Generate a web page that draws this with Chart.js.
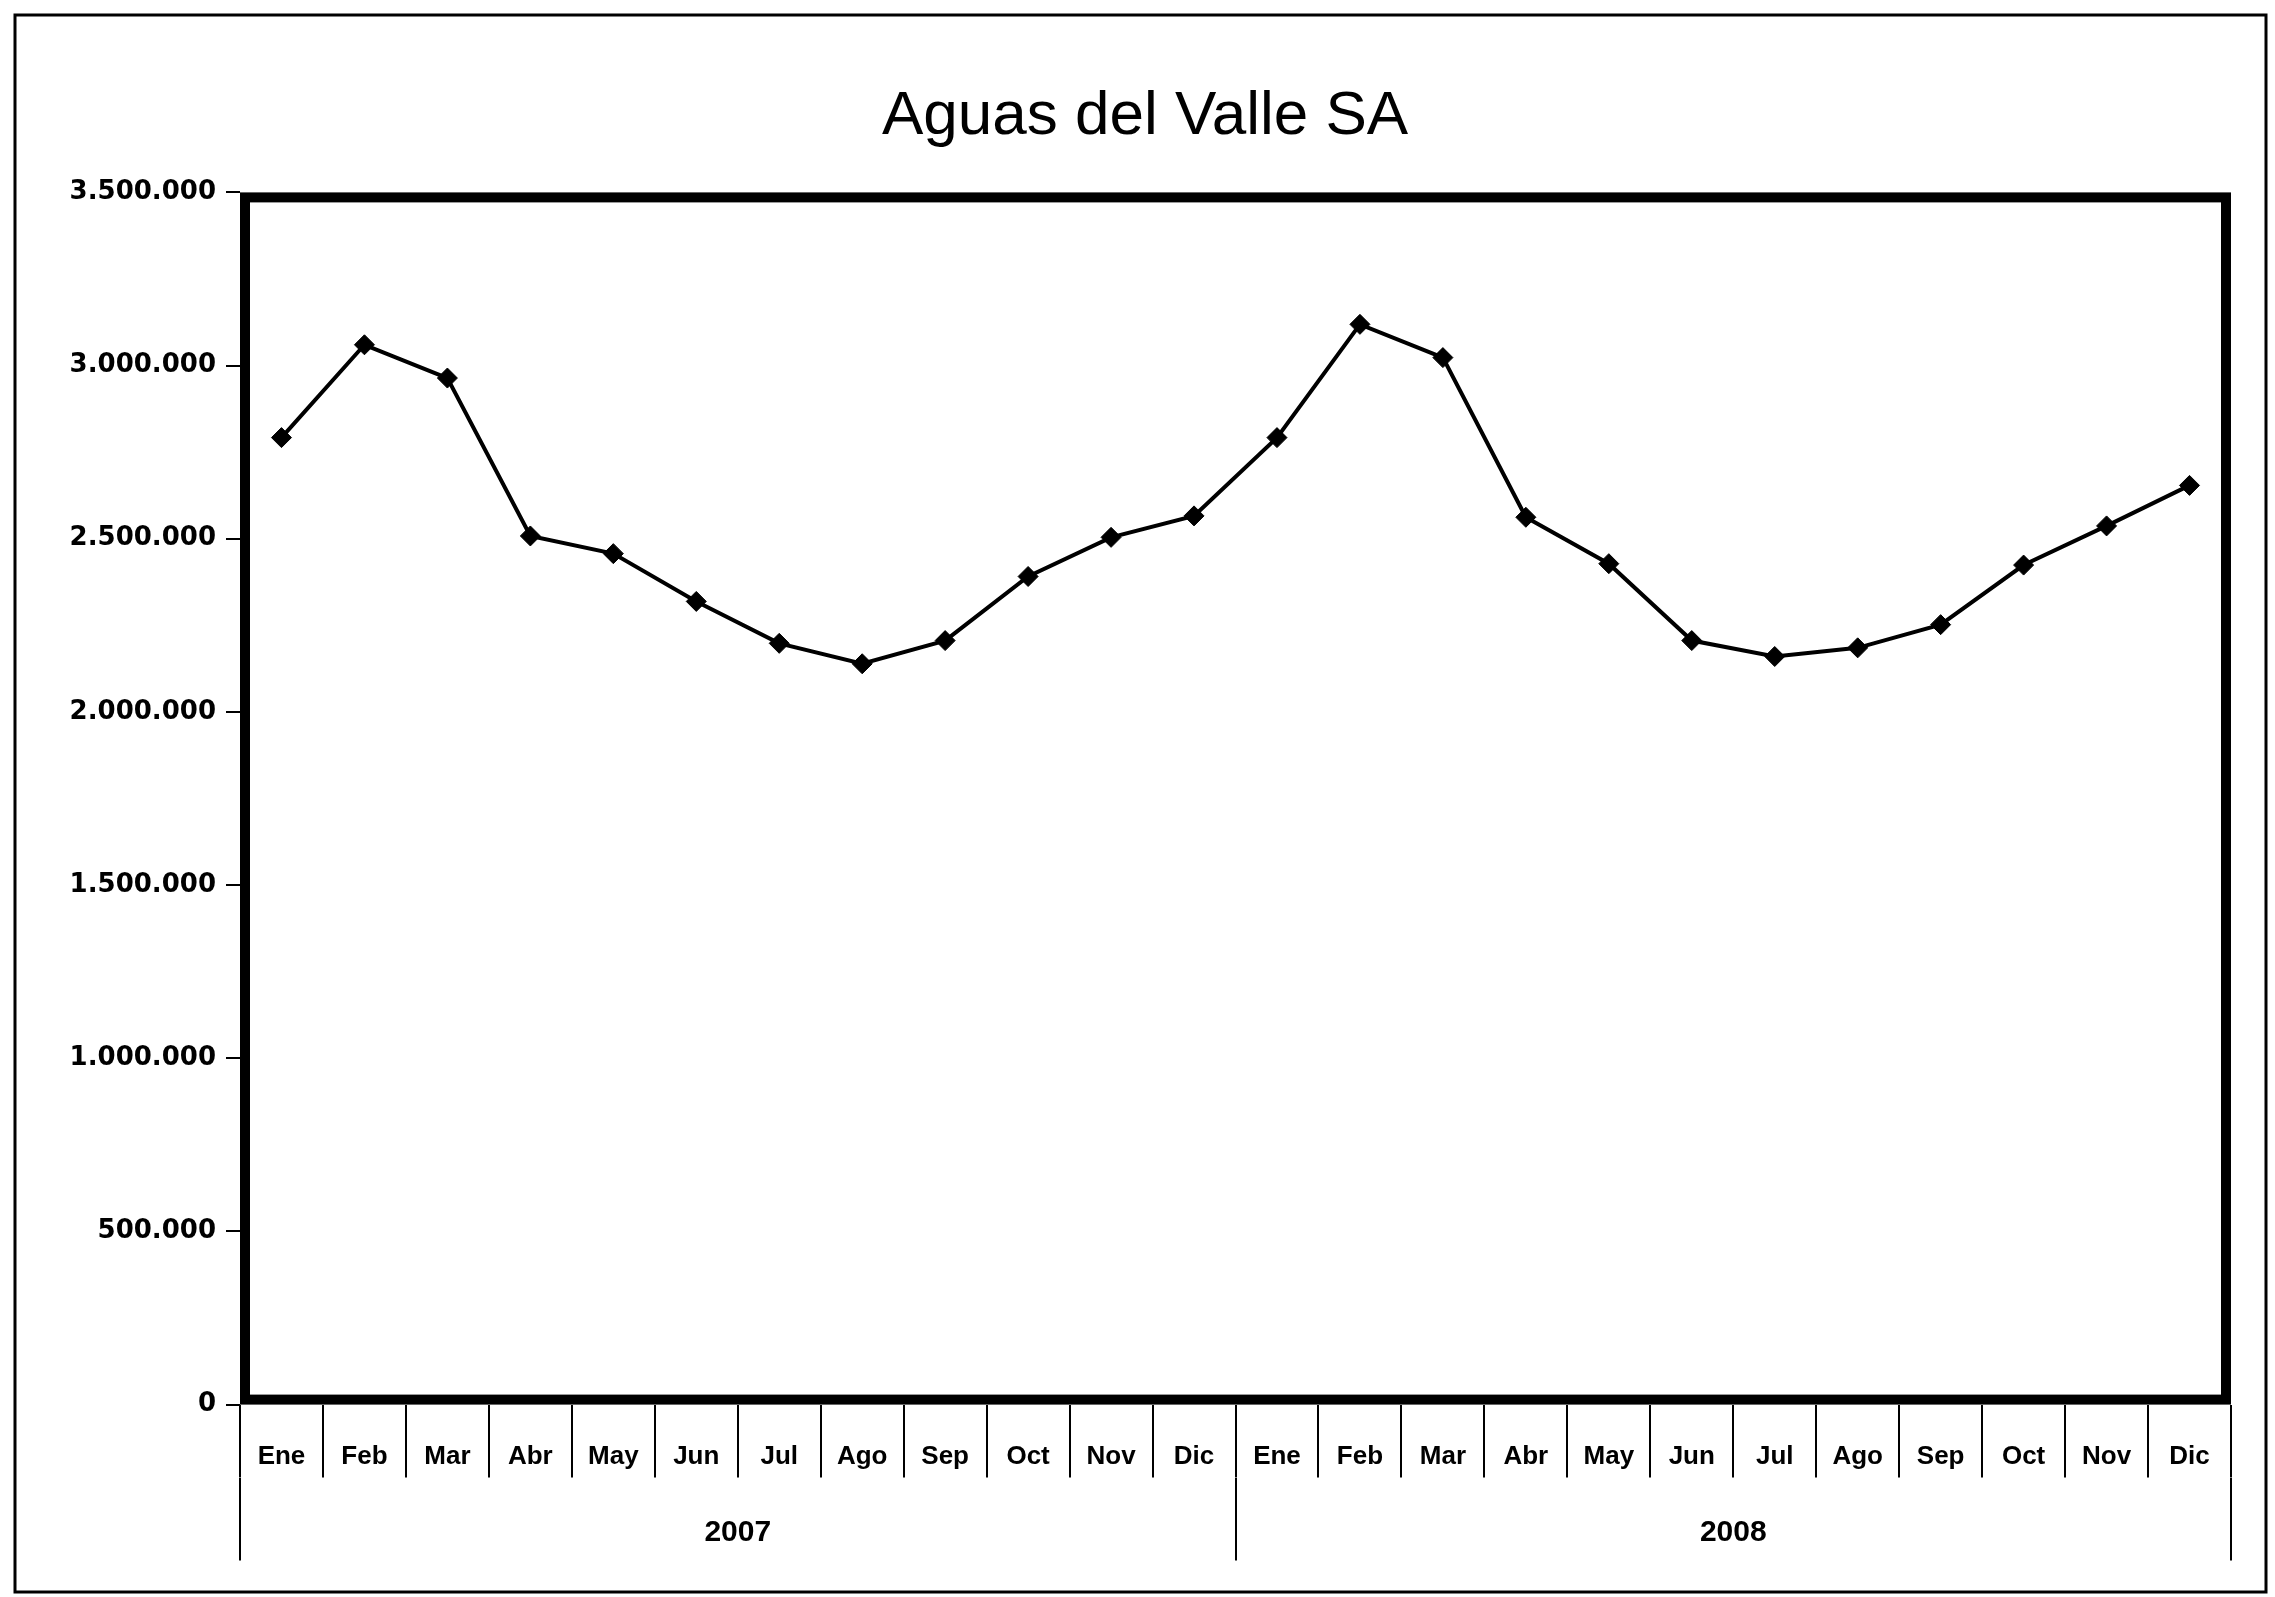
<!DOCTYPE html>
<html>
<head>
<meta charset="utf-8">
<script src="https://cdn.jsdelivr.net/npm/chart.js@4"></script>
<style>
html,body{margin:0;padding:0;background:#fff;}
canvas{display:block;}
</style>
</head>
<body>
<canvas id="c" width="2275" height="1597"></canvas>
<script>
const chartTitle = 'Aguas del Valle SA';
const months = ['Ene','Feb','Mar','Abr','May','Jun','Jul','Ago','Sep','Oct','Nov','Dic',
                'Ene','Feb','Mar','Abr','May','Jun','Jul','Ago','Sep','Oct','Nov','Dic'];
const years = ['2007','2008'];
const values = [2792000, 3060000, 2964000, 2508000, 2457000, 2319000, 2198000, 2139000, 2206000, 2391000, 2504000, 2566000,
                2792000, 3119000, 3023000, 2562000, 2428000, 2206000, 2160000, 2185000, 2252000, 2424000, 2537000, 2654000];
const yMin = 0, yMax = 3500000, yStep = 500000;

function fmt(v){ return String(v).replace(/\B(?=(\d{3})+(?!\d))/g, '.'); }

const framePlugin = {
  id: 'frames',
  beforeDraw(chart){
    const ctx = chart.ctx;
    ctx.save();
    ctx.fillStyle = '#fff';
    ctx.fillRect(0,0,chart.width,chart.height);
    ctx.strokeStyle = '#000';
    ctx.lineWidth = 3;
    ctx.strokeRect(15, 15, 2251, 1577);
    ctx.restore();
  },
  afterDatasetsDraw(chart){
    const a = chart.chartArea, ctx = chart.ctx;
    ctx.save();
    ctx.strokeStyle = '#000';
    ctx.lineWidth = 10;
    ctx.strokeRect(a.left + 5, a.top + 5, a.right - a.left - 10, a.bottom - a.top - 10);
    ctx.restore();
  }
};

new Chart(document.getElementById('c'), {
  type: 'line',
  data: {
    labels: months,
    datasets: [{
      data: values,
      borderColor: '#000',
      backgroundColor: '#000',
      borderWidth: 4,
      pointStyle: 'rectRot',
      pointRadius: 10,
      pointBorderWidth: 1,
      tension: 0,
      xAxisID: 'x',
      yAxisID: 'y'
    }]
  },
  options: {
    responsive: false,
    animation: false,
    layout: { padding: { top: 20, right: 44, bottom: 0, left: 59 } },
    plugins: {
      legend: { display: false },
      tooltip: { enabled: false },
      title: {
        display: true,
        text: chartTitle,
        color: '#000',
        font: { family: 'Liberation Sans, Arial, sans-serif', size: 62, weight: 'normal', lineHeight: 1.2 },
        padding: { top: 60, bottom: 38 }
      }
    },
    scales: {
      y: {
        min: yMin, max: yMax,
        border: { display: false },
        grid: { drawOnChartArea: false, drawTicks: true, tickLength: 14, color: '#000', lineWidth: 2 },
        ticks: {
          stepSize: yStep,
          color: '#000',
          padding: 10,
          font: { family: 'DejaVu Sans, sans-serif', size: 26, weight: 'bold' },
          callback: v => fmt(v)
        },
        afterFit(s){ s.width = 181; }
      },
      x: {
        type: 'category',
        offset: true,
        border: { display: false },
        grid: { offset: true, drawOnChartArea: false, tickLength: 73, color: '#000', lineWidth: 2 },
        ticks: {
          color: '#000',
          padding: -36,
          maxRotation: 0,
          autoSkip: false,
          font: { family: 'Liberation Sans, Arial, sans-serif', size: 26, weight: 'bold' }
        },
        afterFit(s){ s.height = 73; }
      },
      x2: {
        type: 'category',
        position: 'bottom',
        labels: years,
        offset: true,
        border: { display: false },
        grid: { offset: true, drawOnChartArea: false, tickLength: 83, color: '#000', lineWidth: 2 },
        ticks: {
          color: '#000',
          padding: -46,
          maxRotation: 0,
          autoSkip: false,
          font: { family: 'Liberation Sans, Arial, sans-serif', size: 30, weight: 'bold' }
        },
        afterFit(s){ s.height = 119.4; }
      }
    }
  },
  plugins: [framePlugin]
});
</script>
</body>
</html>
